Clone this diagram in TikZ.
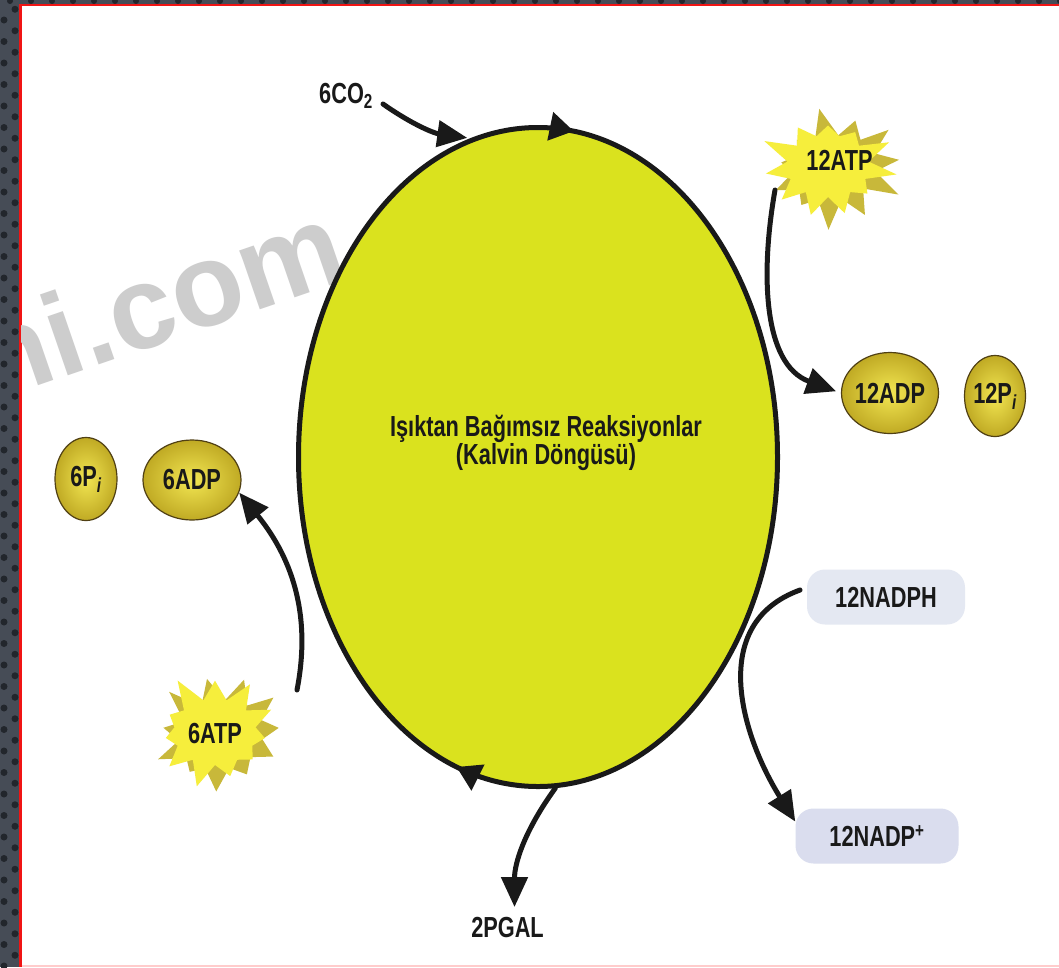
\documentclass[tikz,border=0pt]{standalone}
\usepackage{fontspec}
\setmainfont{Liberation Sans}
\newfontfamily\cond[FakeStretch=0.75]{Liberation Sans}
\usetikzlibrary{shapes.geometric,shapes.symbols,arrows.meta,decorations.markings}
\definecolor{cycfill}{RGB}{218,226,30}
\definecolor{ink}{RGB}{25,25,25}
\definecolor{burstfront}{RGB}{246,238,60}
\definecolor{burstback}{RGB}{200,184,58}
\definecolor{goldin}{RGB}{242,230,82}
\definecolor{goldout}{RGB}{192,170,36}
\definecolor{goldline}{RGB}{80,64,20}
\definecolor{boxA}{RGB}{228,232,242}
\definecolor{boxB}{RGB}{218,221,238}
\definecolor{frame}{RGB}{70,76,86}
\definecolor{framedot}{RGB}{34,38,44}
\definecolor{wmark}{RGB}{205,205,205}
\definecolor{redline}{RGB}{240,20,20}
\begin{document}
\begin{tikzpicture}[x=1pt,y=1pt,
  lbl/.style={font=\cond\bfseries\fontsize{29}{29}\selectfont, text=ink, inner sep=2pt},
  conn/.style={draw=ink, line width=5pt, line cap=round, -{Triangle[length=30pt,width=26pt]}},
  gold/.style={ellipse, inner sep=0pt, draw=goldline, line width=1.2pt, inner color=goldin, outer color=goldout, font=\cond\bfseries\fontsize{29}{29}\selectfont, text=ink},
  nadbox/.style={rectangle, rounded corners=18pt, inner sep=0pt, minimum height=55pt, font=\cond\bfseries\fontsize{29}{29}\selectfont, text=ink},
  burstF/.style={starburst, fill=burstfront, starburst points=11, starburst point height=30pt, inner sep=0pt},
  burstB/.style={starburst, fill=burstback, starburst points=11, starburst point height=32pt, inner sep=0pt},
  ]
\useasboundingbox (0,-967) rectangle (1059,0);
% frame
\fill[frame] (0,-967) rectangle (1059,0);
\foreach \i in {0,...,45} {
  \fill[framedot] (4,{-20-21.5*\i}) circle (3.5);
  \fill[framedot] (15,{-9.25-21.5*\i}) circle (3.5);
}
\foreach \i in {0,...,50} { \fill[framedot] ({10+21*\i},-1) circle (3); }
\fill[white] (21,-966) rectangle (1059,-6);
\draw[redline, line width=2.5pt] (20.25,-967) -- (20.25,-5) -- (1059,-5);
\draw[red!20, line width=1.5pt] (21.5,-966.2) -- (1059,-966.2);
% watermark
\begin{scope}
\clip (21.5,-965.5) rectangle (1059,-6.2);
\node[anchor=base west, rotate=19, text=wmark, font=\bfseries\fontsize{118}{118}\selectfont, inner sep=0pt] (wm) at (-8,-402) {ni.com};
\end{scope}
% main cycle
\node[ellipse, draw=ink, line width=5pt, fill=cycfill, minimum width=479pt, minimum height=659pt, inner sep=0pt,
  postaction={decorate, decoration={markings,
    mark=at position 0.230 with {\arrowreversed{Triangle[length=24pt,width=28pt]}},
    mark=at position 0.703 with {\arrowreversed{Triangle[length=24pt,width=28pt]}}}}] (cyc) at (538,-457) {};
\node[align=center, font=\cond\bfseries\fontsize{29}{23}\selectfont, text=ink, inner sep=0pt] (title) at (546,-443) {Işıktan Bağımsız Reaksiyonlar\\(Kalvin Döngüsü)};
% starbursts
\node[burstB, minimum width=150pt, minimum height=128pt, random starburst=7, rotate=14] (atp12b) at (834,-168) {};
\node[burstF, minimum width=142pt, minimum height=122pt, random starburst=3] (atp12s) at (828,-166) {};
\node[lbl, anchor=base] (atp12) at (839.5,-170) {12ATP};
\node[burstB, minimum width=150pt, minimum height=132pt, random starburst=11, rotate=14] (atp6b) at (221,-735) {};
\node[burstF, minimum width=142pt, minimum height=126pt, random starburst=5] (atp6s) at (215,-732) {};
\node[lbl, anchor=base] (atp6) at (215,-743) {6ATP};
% gold balls
\node[gold, minimum width=97pt, minimum height=81pt] (adp12) at (890,-393) {\makebox[0pt]{12ADP}};
\node[gold, minimum width=61pt, minimum height=81pt] (pi12) at (995,-396) {\makebox[0pt]{12P\textsubscript{\itshape i}}};
\node[gold, minimum width=62pt, minimum height=83pt] (pi6) at (86,-479) {\makebox[0pt]{6P\textsubscript{\itshape i}}};
\node[gold, minimum width=98pt, minimum height=80pt] (adp6) at (192,-480) {\makebox[0pt]{6ADP}};
% NADP boxes
\node[nadbox, fill=boxA, minimum width=158pt] (nadph) at (886,-597) {12NADPH};
\node[nadbox, fill=boxB, minimum width=163pt] (nadp) at (877,-836) {12NADP\textsuperscript{+}};
% labels
\node[lbl, anchor=base west] (co2) at (317,-103) {6CO\textsubscript{2}};
\node[lbl] (pgal) at (507.5,-927.5) {2PGAL};
% connectors
\coordinate (co2out) at (383,-104);
\coordinate (atpout) at (775,-190);
\coordinate (atp6out) at (297,-690);
\coordinate (nadout) at (800,-590);
\draw[conn, shorten >=3pt] (co2out) to[out=-35,in=172] (cyc.102);
\draw[conn, shorten >=5pt] (atpout) to[out=-100,in=160] (adp12.west);
\draw[conn] (atp6out) to[out=79,in=-51] (adp6.-15);
\draw[conn] (nadout) to[out=200,in=122,looseness=1.1] (nadp.170);
\draw[conn, shorten >=8pt] (cyc.-87) to[out=-126,in=90] ([xshift=7pt]pgal.north);
\end{tikzpicture}
\end{document}
